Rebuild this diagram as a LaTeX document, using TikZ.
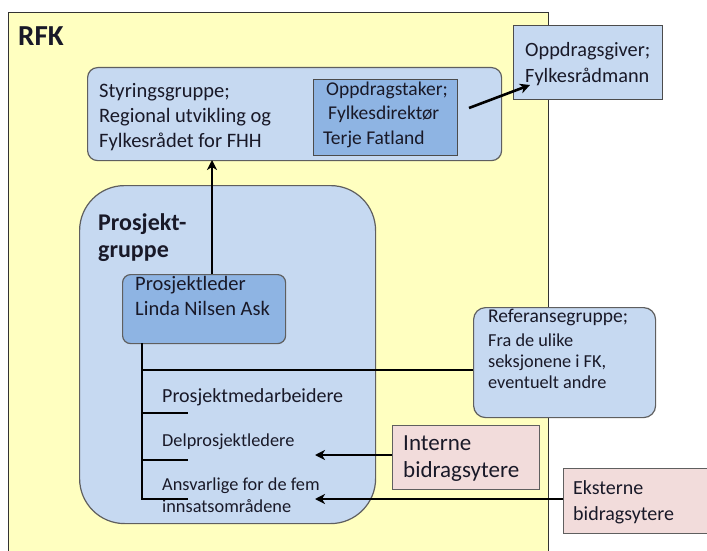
\documentclass[tikz,border=0pt]{standalone}
\usepackage{fontspec}
\setmainfont{Carlito}
\usetikzlibrary{arrows.meta,calc}
\definecolor{rfkyellow}{RGB}{255,255,192}
\definecolor{lightblue}{RGB}{198,217,241}
\definecolor{midblue}{RGB}{142,180,227}
\definecolor{pinkbox}{RGB}{242,220,219}
\definecolor{edgegray}{RGB}{95,95,95}
\definecolor{txt}{RGB}{25,25,40}
\begin{document}
\begin{tikzpicture}[x=1pt,y=-1pt,
  box/.style={draw=edgegray, line width=1.2pt, inner sep=0pt, anchor=north west},
  lbl/.style={anchor=base west, inner sep=0pt, text=txt, align=left},
  bigfont/.style={font=\fontsize{20.5}{25}\selectfont},
  mainfont/.style={font=\fontsize{20}{25}\selectfont},
  smallfont/.style={font=\fontsize{18.3}{22}\selectfont},
  conn/.style={line width=2.6pt, black},
  arr/.style={conn, -{Stealth[length=10pt,width=10pt,inset=3pt]}}
]
\useasboundingbox (0,0) rectangle (707,551);
\clip (0,0) rectangle (707,551);
\fill[white] (0,0) rectangle (707,551);
\draw[fill=rfkyellow, draw=black!80, line width=1pt] (8,12.5) rectangle (548,600);
\node[lbl, font=\fontsize{29}{34}\bfseries\selectfont] (rfk) at (18,46) {RFK};

% Styringsgruppe
\node[box, fill=lightblue, rounded corners=10pt, minimum width=414pt, minimum height=93pt] (styr) at (87,67) {};
\node[lbl, bigfont] (styrtxt) at (99,147) {Styringsgruppe;\\Regional utvikling og\\Fylkesrådet for FHH};
\node[box, fill=midblue, draw=black!70, minimum width=144pt, minimum height=76pt] (taker) at (313,79) {};
\node[lbl, font=\fontsize{19.5}{24.5}\selectfont] (takertxt) at (323,144) {\hspace*{3pt}Oppdragstaker;\\\hspace*{5pt}Fylkesdirektør\\Terje Fatland};

% Oppdragsgiver
\node[box, fill=lightblue, draw=black!70, minimum width=149pt, minimum height=74pt] (giver) at (513,25) {};
\node[lbl, font=\fontsize{20.3}{25}\selectfont] (givertxt) at (525,82) {Oppdragsgiver;\\Fylkesrådmann};

% Prosjektgruppe
\node[box, fill=lightblue, rounded corners=45pt, minimum width=296pt, minimum height=338pt] (pg) at (79,185) {};
\node[lbl, font=\fontsize{24}{27}\bfseries\selectfont] (pgtxt) at (98,257) {Prosjekt-\\gruppe};
\node[box, fill=midblue, rounded corners=8pt, minimum width=163pt, minimum height=69pt] (pl) at (122,274) {};
\node[lbl, bigfont] (pltxt) at (135,315) {Prosjektleder\\Linda Nilsen Ask};

% Referansegruppe
\node[box, fill=lightblue, rounded corners=12pt, minimum width=182pt, minimum height=110pt] (ref) at (473,307) {};
\node[lbl, font=\fontsize{18.3}{21}\selectfont] (reftxt) at (488,388) {{\fontsize{19.5}{24}\selectfont Referansegruppe;}\\[3pt]Fra de ulike\\seksjonene i FK,\\eventuelt andre};

% Interne / Eksterne
\node[box, fill=pinkbox, minimum width=147pt, minimum height=64pt] (int) at (392,425) {};
\node[lbl, font=\fontsize{23}{27}\selectfont] (inttxt) at (403,477) {Interne\\bidragsytere};
\node[box, fill=pinkbox, minimum width=160pt, minimum height=65pt] (ext) at (563,468) {};
\node[lbl, font=\fontsize{20}{26}\selectfont] (exttxt) at (573,520) {Eksterne\\bidragsytere};

% member labels
\node[lbl, mainfont] (med) at (162,402) {Prosjektmedarbeidere};
\node[lbl, smallfont] (del) at (162,446) {Delprosjektledere};
\node[lbl, smallfont] (ans) at (162,512) {Ansvarlige for de fem\\innsatsområdene};

% connectors
\coordinate (trunktop) at (142,343);
\coordinate (trunkbot) at (142,499);
\coordinate (b1) at (188,413);
\coordinate (b2) at (188,460);
\coordinate (b3) at (188,499);
\coordinate (plup) at (212,274);
\coordinate (styrdown) at (212,160);
\coordinate (takerout) at (469,108);
\coordinate (giverin) at (530,85);
\coordinate (inttip) at (315,455);
\coordinate (exttip) at (315,499);
\coordinate (refbranch) at (142,370);

\draw[arr] (plup) -- (styrdown);
\draw[arr] (takerout) -- (giverin);
\draw[conn] (trunktop) -- (trunkbot) -- (b3);
\draw[conn] (b1 -| trunktop) -- (b1);
\draw[conn] (b2 -| trunktop) -- (b2);
\draw[conn] (refbranch) -- (refbranch -| ref.west);
\draw[arr] (int.west |- inttip) -- (inttip);
\draw[arr] (ext.west |- exttip) -- (exttip);
\end{tikzpicture}
\end{document}
